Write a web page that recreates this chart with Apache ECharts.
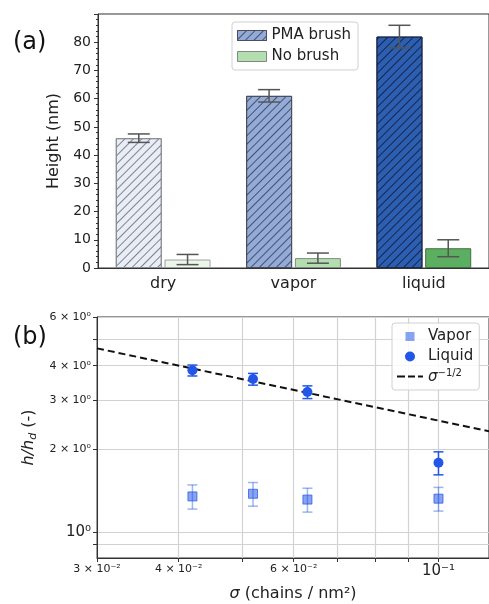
<!DOCTYPE html>
<html>
<head>
<meta charset="utf-8">
<script src="https://cdn.jsdelivr.net/npm/echarts@6/dist/echarts.min.js"></script>
<style>
  html, body { margin: 0; padding: 0; background: #fff; }
  #main { width: 489px; height: 604px; }
</style>
</head>
<body>
<div id="main"></div>
<script>
// panel (a): bar heights
var categories = ['dry', 'vapor', 'liquid'];
var pmaHeight = [46, 61, 82];
var pmaErr = [1.5, 2.2, 4];
var noBrushHeight = [3, 3.5, 7];
var noBrushErr = [1.8, 1.8, 3];
var heightTicks = [0, 10, 20, 30, 40, 50, 60, 70, 80];

// panel (b): normalised height vs grafting density
var sigma = [0.042, 0.052, 0.063, 0.1];
var liquidRatio = [3.85, 3.58, 3.21, 1.78];
var liquidLow = [3.67, 3.40, 3.04, 1.61];
var liquidHigh = [4.02, 3.75, 3.38, 1.95];
var vaporRatio = [1.345, 1.375, 1.31, 1.32];
var vaporLow = [1.21, 1.24, 1.18, 1.19];
var vaporHigh = [1.48, 1.51, 1.44, 1.45];
var scalingSigma = [0.03, 0.12];
var scalingRatio = [4.62, 2.31];

var sigmaTicks = [0.03, 0.04, 0.05, 0.06, 0.07, 0.08, 0.09, 0.1];
var sigmaLabels = [0.03, 0.04, 0.06, 0.1];
var sigmaLabelText = ['{s|3 × 10⁻²}', '{s|4 × 10⁻²}', '{s|6 × 10⁻²}', '{b|10⁻¹}'];
var ratioTicks = [0.9, 1, 2, 3, 4, 5, 6];
var ratioLabels = [1, 2, 3, 4, 6];
var ratioLabelText = ['{b|10⁰}', '{s|2 × 10⁰}', '{s|3 × 10⁰}', '{s|4 × 10⁰}', '{s|6 × 10⁰}'];

var pmaColors = ['#e8edf6', '#93abd8', '#2c5eb2'];
var pmaEdges = ['#8a8d94', '#4a4f5a', '#1d2b48'];
var pmaHatch = ['rgba(90,95,110,0.75)', 'rgba(45,50,70,0.75)', 'rgba(15,25,50,0.8)'];
var noColors = ['#edf6eb', '#b3dfb0', '#5cae60'];
var noEdges = ['#9aa19a', '#7f8c7f', '#3f6e45'];

var myChart = echarts.init(document.getElementById('main'));

function nearestText(v, vals, texts) {
    var best = 0;
    for (var i = 0; i < vals.length; i++) {
        if (Math.abs(Math.log(vals[i]) - Math.log(v)) < Math.abs(Math.log(vals[best]) - Math.log(v))) best = i;
    }
    return texts[best];
}

function hatch(c) {
    return {
        symbol: 'rect', symbolSize: 1,
        dashArrayX: [[1, 0]], dashArrayY: [1, 4.5],
        rotation: -Math.PI / 4, color: c
    };
}

var pmaData = [], noData = [], pmaBars = [], noBars = [];
for (var i = 0; i < categories.length; i++) {
    pmaData.push({
        value: pmaHeight[i],
        itemStyle: { color: pmaColors[i], borderColor: pmaEdges[i], decal: hatch(pmaHatch[i]) }
    });
    noData.push({
        value: noBrushHeight[i],
        itemStyle: { color: noColors[i], borderColor: noEdges[i] }
    });
    pmaBars.push([i, pmaHeight[i] - pmaErr[i], pmaHeight[i] + pmaErr[i]]);
    noBars.push([i, noBrushHeight[i] - noBrushErr[i], noBrushHeight[i] + noBrushErr[i]]);
}

var liquidPts = [], vaporPts = [], liquidBars = [], vaporBars = [], scalingPts = [];
for (var i = 0; i < sigma.length; i++) {
    liquidPts.push([sigma[i], liquidRatio[i]]);
    vaporPts.push([sigma[i], vaporRatio[i]]);
    liquidBars.push([sigma[i], liquidLow[i], liquidHigh[i]]);
    vaporBars.push([sigma[i], vaporLow[i], vaporHigh[i]]);
}
for (var i = 0; i < scalingSigma.length; i++) {
    scalingPts.push([scalingSigma[i], scalingRatio[i]]);
}

// error bar drawer; shift = pixel offset inside a category band
function errorBar(shift, capW, stroke, lw) {
    return function (params, api) {
        var lo = api.coord([api.value(0), api.value(1)]);
        var hi = api.coord([api.value(0), api.value(2)]);
        var x = lo[0] + shift;
        var st = { stroke: stroke, lineWidth: lw };
        return {
            type: 'group',
            children: [
                { type: 'line', shape: { x1: x, y1: lo[1], x2: x, y2: hi[1] }, style: st },
                { type: 'line', shape: { x1: x - capW / 2, y1: lo[1], x2: x + capW / 2, y2: lo[1] }, style: st },
                { type: 'line', shape: { x1: x - capW / 2, y1: hi[1], x2: x + capW / 2, y2: hi[1] }, style: st }
            ]
        };
    };
}

var frame = '#333';
var vaporBlue = 'rgba(38,88,232,0.55)';
var liquidBlue = '#2256e6';
// legend icons, drawn in a 26x10 box
var squareIcon = 'path://M0,0m0,0M8.5,0.5h9v9h-9zM26,10m0,0';
var dashIcon = 'path://M0,4h8v2h-8zM11,4h7v2h-7zM21,4h5v2h-5z';

option = {
    animation: false,
    textStyle: { fontFamily: 'DejaVu Sans' },
    title: [
        { text: '(a)', left: 8, top: 26, textStyle: { fontSize: 24, fontWeight: 'normal', color: '#111', fontFamily: 'DejaVu Sans' } },
        { text: '(b)', left: 8, top: 321, textStyle: { fontSize: 24, fontWeight: 'normal', color: '#111', fontFamily: 'DejaVu Sans' } }
    ],
    legend: [
        {
            data: [
                { name: 'PMA brush', icon: 'rect' },
                { name: 'No brush', icon: 'rect' }
            ],
            orient: 'vertical',
            left: 232, top: 22,
            itemWidth: 29, itemHeight: 10, itemGap: 4,
            padding: [5, 7, 5, 5],
            itemStyle: { borderWidth: 1 },
            borderColor: '#d0d0d0', borderWidth: 1, borderRadius: 3,
            backgroundColor: 'rgba(255,255,255,0.85)',
            textStyle: { fontSize: 15, color: '#222', fontFamily: 'DejaVu Sans', lineHeight: 17 }
        },
        {
            data: [
                { name: 'Vapor', icon: squareIcon, itemStyle: { borderWidth: 0 } },
                { name: 'Liquid', icon: 'circle', itemStyle: { borderWidth: 0 } },
                { name: 'scaling', icon: dashIcon, itemStyle: { color: '#111', borderWidth: 0 } }
            ],
            orient: 'vertical',
            left: 392, top: 323,
            itemWidth: 26, itemHeight: 10, itemGap: 3,
            padding: [5, 6, 5, 5],
            borderColor: '#d0d0d0', borderWidth: 1, borderRadius: 3,
            backgroundColor: 'rgba(255,255,255,0.85)',
            formatter: function (n) {
                if (n === 'scaling') return '{i|σ}{sup|−1/2}';
                return n;
            },
            textStyle: {
                fontSize: 15, color: '#222', fontFamily: 'DejaVu Sans', lineHeight: 17,
                rich: {
                    i: { fontSize: 15, fontStyle: 'italic', color: '#222', lineHeight: 17, verticalAlign: 'bottom' },
                    sup: { fontSize: 10, color: '#222', lineHeight: 17, verticalAlign: 'top' }
                }
            }
        }
    ],
    grid: [
        { left: 98, top: 14, right: 0, height: 254, show: true, borderColor: frame, borderWidth: 1, containLabel: false },
        { left: 97, top: 317, right: 0, height: 241, show: true, borderColor: frame, borderWidth: 1, containLabel: false }
    ],
    xAxis: [
        {
            gridIndex: 0, type: 'category', data: categories,
            axisLine: { lineStyle: { color: frame, width: 1 } },
            axisTick: { show: false },
            axisLabel: { fontSize: 16, margin: 8, color: '#222', fontFamily: 'DejaVu Sans' }
        },
        {
            gridIndex: 1, type: 'log', logBase: 10, min: 0.03, max: 0.1195,
            name: '{i|σ}{n| (chains / nm²)}', nameLocation: 'middle', nameGap: 28,
            nameTextStyle: {
                rich: {
                    i: { fontSize: 16, fontStyle: 'italic', color: '#222', fontFamily: 'DejaVu Sans' },
                    n: { fontSize: 16, color: '#222', fontFamily: 'DejaVu Sans' }
                }
            },
            axisLine: { onZero: false, lineStyle: { color: frame, width: 1 } },
            axisTick: { show: true, customValues: sigmaTicks, length: 4, lineStyle: { color: frame } },
            axisLabel: {
                customValues: sigmaLabels, margin: 6, color: '#222',
                formatter: function (v) { return nearestText(v, sigmaLabels, sigmaLabelText); },
                rich: {
                    s: { fontSize: 11, color: '#222', fontFamily: 'DejaVu Sans' },
                    b: { fontSize: 15, color: '#222', fontFamily: 'DejaVu Sans' }
                }
            },
            splitLine: { show: true, lineStyle: { color: '#d2d2d2', width: 1.2 } },
            minorTick: { show: false }
        }
    ],
    yAxis: [
        {
            gridIndex: 0, type: 'value', min: 0, max: 90, interval: 10,
            name: 'Height (nm)', nameLocation: 'middle', nameGap: 33,
            nameTextStyle: { fontSize: 16, color: '#222', fontFamily: 'DejaVu Sans' },
            axisLine: { show: true, lineStyle: { color: frame, width: 1 } },
            axisTick: { show: true, length: 4, lineStyle: { color: frame } },
            minorTick: { show: true, splitNumber: 5, length: 2, lineStyle: { color: frame } },
            axisLabel: { customValues: heightTicks, fontSize: 14, margin: 7, color: '#222', fontFamily: 'DejaVu Sans' },
            splitLine: { show: false }
        },
        {
            gridIndex: 1, type: 'log', logBase: 10, min: 0.805, max: 6,
            name: '{i|h/h}{d|d}{n| (-)}', nameLocation: 'middle', nameGap: 52,
            nameTextStyle: {
                rich: {
                    i: { fontSize: 16, fontStyle: 'italic', color: '#222', lineHeight: 20, verticalAlign: 'middle', fontFamily: 'DejaVu Sans' },
                    d: { fontSize: 11, fontStyle: 'italic', color: '#222', lineHeight: 20, verticalAlign: 'bottom', padding: [6, 0, 0, 0], fontFamily: 'DejaVu Sans' },
                    n: { fontSize: 16, color: '#222', lineHeight: 20, verticalAlign: 'middle', fontFamily: 'DejaVu Sans' }
                }
            },
            axisLine: { show: true, onZero: false, lineStyle: { color: frame, width: 1 } },
            axisTick: { show: true, customValues: ratioTicks, length: 4, lineStyle: { color: frame } },
            axisLabel: {
                customValues: ratioLabels, margin: 6, color: '#222',
                formatter: function (v) { return nearestText(v, ratioLabels, ratioLabelText); },
                rich: {
                    s: { fontSize: 11, color: '#222', fontFamily: 'DejaVu Sans' },
                    b: { fontSize: 15, color: '#222', fontFamily: 'DejaVu Sans' }
                }
            },
            splitLine: { show: true, lineStyle: { color: '#d2d2d2', width: 1.2 } },
            minorTick: { show: false }
        }
    ],
    series: [
        {
            name: 'PMA brush', type: 'bar', xAxisIndex: 0, yAxisIndex: 0,
            barWidth: 46, barGap: '6%',
            itemStyle: { color: '#93abd8', borderColor: '#4a4f5a', borderWidth: 1, decal: hatch('rgba(45,50,70,0.75)') },
            data: pmaData
        },
        {
            name: 'No brush', type: 'bar', xAxisIndex: 0, yAxisIndex: 0,
            barWidth: 46,
            itemStyle: { color: '#b3dfb0', borderColor: '#7f8c7f', borderWidth: 1 },
            data: noData
        },
        {
            type: 'custom', xAxisIndex: 0, yAxisIndex: 0, silent: true, z: 5,
            renderItem: errorBar(-24.4, 22, '#555', 1.5),
            encode: { x: 0, y: [1, 2] },
            data: pmaBars
        },
        {
            type: 'custom', xAxisIndex: 0, yAxisIndex: 0, silent: true, z: 5,
            renderItem: errorBar(24.4, 22, '#555', 1.5),
            encode: { x: 0, y: [1, 2] },
            data: noBars
        },
        {
            name: 'scaling', type: 'line', xAxisIndex: 1, yAxisIndex: 1,
            symbol: 'none', z: 3,
            lineStyle: { color: '#111', width: 2, type: [7, 4] },
            itemStyle: { color: '#111' },
            data: scalingPts
        },
        {
            type: 'custom', xAxisIndex: 1, yAxisIndex: 1, silent: true, z: 4,
            renderItem: errorBar(0, 10, 'rgba(38,88,232,0.45)', 1.5),
            encode: { x: 0, y: [1, 2] },
            data: vaporBars
        },
        {
            type: 'custom', xAxisIndex: 1, yAxisIndex: 1, silent: true, z: 4,
            renderItem: errorBar(0, 10, liquidBlue, 1.5),
            encode: { x: 0, y: [1, 2] },
            data: liquidBars
        },
        {
            name: 'Vapor', type: 'scatter', xAxisIndex: 1, yAxisIndex: 1,
            symbol: 'rect', symbolSize: 9, z: 5,
            itemStyle: { color: vaporBlue, borderColor: 'rgba(38,88,232,0.75)', borderWidth: 1, opacity: 1 },
            data: vaporPts
        },
        {
            name: 'Liquid', type: 'scatter', xAxisIndex: 1, yAxisIndex: 1,
            symbol: 'circle', symbolSize: 10, z: 5,
            itemStyle: { color: liquidBlue, opacity: 1 },
            data: liquidPts
        }
    ]
};
myChart.setOption(option);
</script>
</body>
</html>
